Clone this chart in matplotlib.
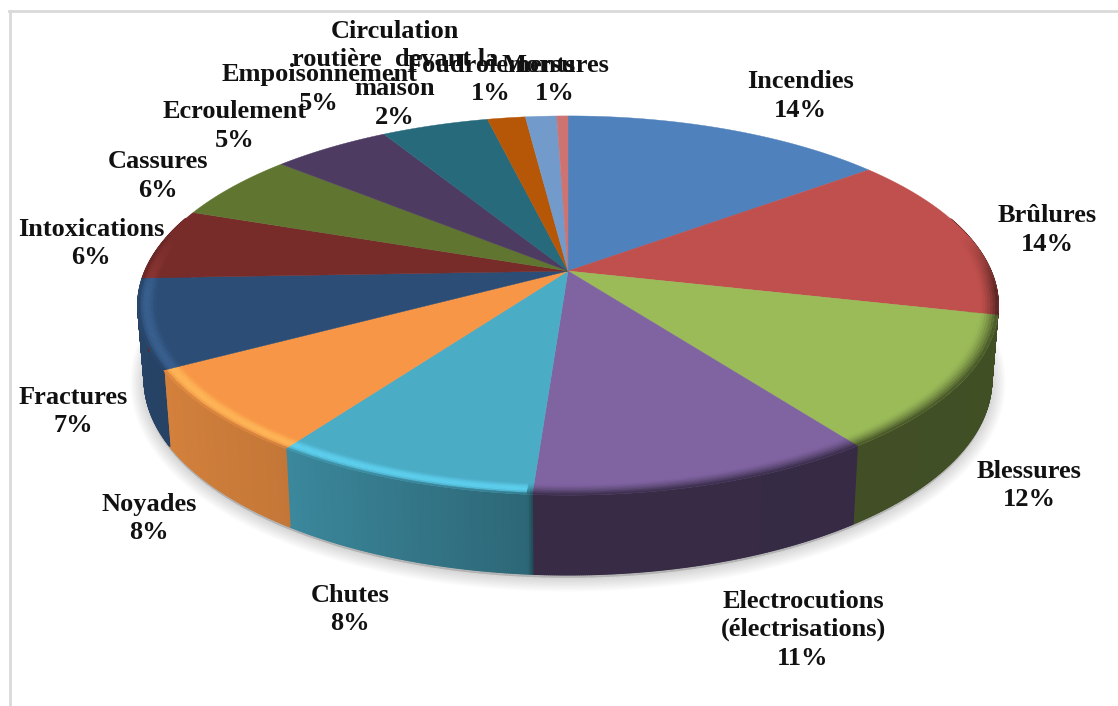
import numpy as np
import matplotlib
matplotlib.use("Agg")
import matplotlib.pyplot as plt
from matplotlib.collections import PolyCollection
from matplotlib.colors import to_rgb

# slices, clockwise from 12 o'clock. sizes, the printed labels are rounded differently
values = [14.5, 14.2, 11.4, 11.0, 8.5, 7.2, 7.6, 6.1, 5.8, 5.3, 4.8, 1.7, 1.4, 0.5]
percents = [14, 14, 12, 11, 8, 8, 7, 6, 6, 5, 5, 2, 1, 1]
colors = ["#4f81bd", "#c0504d", "#9bbb59", "#8064a2", "#4bacc6", "#f79646", "#2c4d75",
          "#772c2a", "#5f7530", "#4d3b62", "#276a7c", "#b65708", "#729aca", "#cd7371"]
labels = ["Incendies", "Brûlures", "Blessures", "Electrocutions\n(électrisations)", "Chutes",
          "Noyades", "Fractures", "Intoxications", "Cassures", "Ecroulement", "Empoisonnement",
          "Circulation\nroutière  devant la\nmaison", "Foudroiements", "Morsures"]
label_x = [800, 1047, 1029, 803, 350, 149, 73, 91, 158, 235, 319, 395, 491, 555]
label_y = [82, 216, 471, 601, 595, 504, 397, 229, 162, 112, 75, 31, 65, 65]

cx, cy = 568, 271
a, b, k = 423, 183.3, 0.182


def project(t, r=1.0):
    # circle seen in perspective, far side shrinks
    X, Y = r * np.sin(t), r * np.cos(t)
    f = 1 / (1 + k * Y)
    return cx + a * X * f, cy - b * Y * f


def bottom(t):
    x, y = project(t)
    return cx + (x - cx) * 0.985, cy + (y - cy) * 1.03 + 73


def wall_shade(t):
    return np.interp(np.sin(t), [-1, -0.6, -0.08, -0.07, 1], [0.88, 0.8, 0.6, 0.43, 0.42])


fig = plt.figure(figsize=(11.18, 7.06), dpi=100)
ax = fig.add_axes([0, 0, 1, 1])
ax.set_xlim(0, 1118)
ax.set_ylim(706, 0)
ax.axis("off")

# frame of the pasted picture
ax.plot([9.5, 9.5], [11, 706], color="#d9d9d9", lw=2)
ax.plot([9, 1118], [11, 11], color="#d9d9d9", lw=2)

edges = np.cumsum([0] + values) / sum(values) * 2 * np.pi
full = np.linspace(0, 2 * np.pi, 361)

# soft shadow under the disc
sx, sy = bottom(full)
for lw in np.arange(20, 1, -2):
    ax.fill(sx, sy + 3, color="#000000", alpha=0.014, lw=lw, zorder=1)

# side wall
quads, quad_cols = [], []
for start, end, col in zip(edges[:-1], edges[1:], colors):
    rgb = np.array(to_rgb(col))
    ts = np.arange(start, end + 0.004, 0.004)
    ts[-1] = end
    for t0, t1 in zip(ts[:-1], ts[1:]):
        if np.cos(t0) > 0.3:
            continue
        x0, y0 = project(t0)
        x1, y1 = project(t1)
        x2, y2 = bottom(t1)
        x3, y3 = bottom(t0)
        quads.append([(x0, y0), (x1, y1), (x2, y2), (x3, y3)])
        quad_cols.append(rgb * wall_shade((t0 + t1) / 2))
ax.add_collection(PolyCollection(quads, facecolors=quad_cols, edgecolors=quad_cols, lw=1, zorder=2))

# top surface
for start, end, col in zip(edges[:-1], edges[1:], colors):
    ts = np.linspace(start, end, 200)
    x, y = project(ts)
    ax.fill(np.r_[cx, x], np.r_[cy, y], facecolor=col, edgecolor=col, lw=0.3, zorder=3)

# bevel on the rim: light on the left, dark on the right
quads, quad_cols = [], []
levels = np.linspace(0.96, 1.0, 8)
for start, end, col in zip(edges[:-1], edges[1:], colors):
    rgb = np.array(to_rgb(col))
    ts = np.arange(start, end + 0.006, 0.006)
    ts[-1] = end
    for t0, t1 in zip(ts[:-1], ts[1:]):
        mid = (t0 + t1) / 2
        amount = np.clip((0.2 - np.cos(mid)) / 0.3, 0, 1)
        if amount == 0:
            continue
        for r0, r1 in zip(levels[:-1], levels[1:]):
            u = (r0 + r1 - 2 * levels[0]) / 2 / (1 - levels[0])
            if np.sin(mid) < -0.08:
                lit = np.clip(rgb * 1.18 + 0.02, 0, 1)
                c = rgb + (lit - rgb) * np.sin(np.pi * u) * amount
                c = c + (rgb * wall_shade(mid) - c) * max(0, (u - 0.75) / 0.25)
            else:
                c = rgb + (rgb * wall_shade(mid) - rgb) * u ** 1.5 * amount
            xa, ya = project(t0, r0)
            xb, yb = project(t1, r0)
            xc, yc = project(t1, r1)
            xd, yd = project(t0, r1)
            quads.append([(xa, ya), (xb, yb), (xc, yc), (xd, yd)])
            quad_cols.append(c)
ax.add_collection(PolyCollection(quads, facecolors=quad_cols, edgecolors=quad_cols, lw=0.3, zorder=4))

for name, p, x, y in zip(labels, percents, label_x, label_y):
    lines = name.split("\n") + [f"{p}%"]
    for i, line in enumerate(lines):
        ax.text(x, y + i * 28.7, line, family="Liberation Serif", weight="bold", fontsize=19,
                ha="center", va="center", color="#111111", zorder=5)

fig.savefig("out.png", dpi=100)
